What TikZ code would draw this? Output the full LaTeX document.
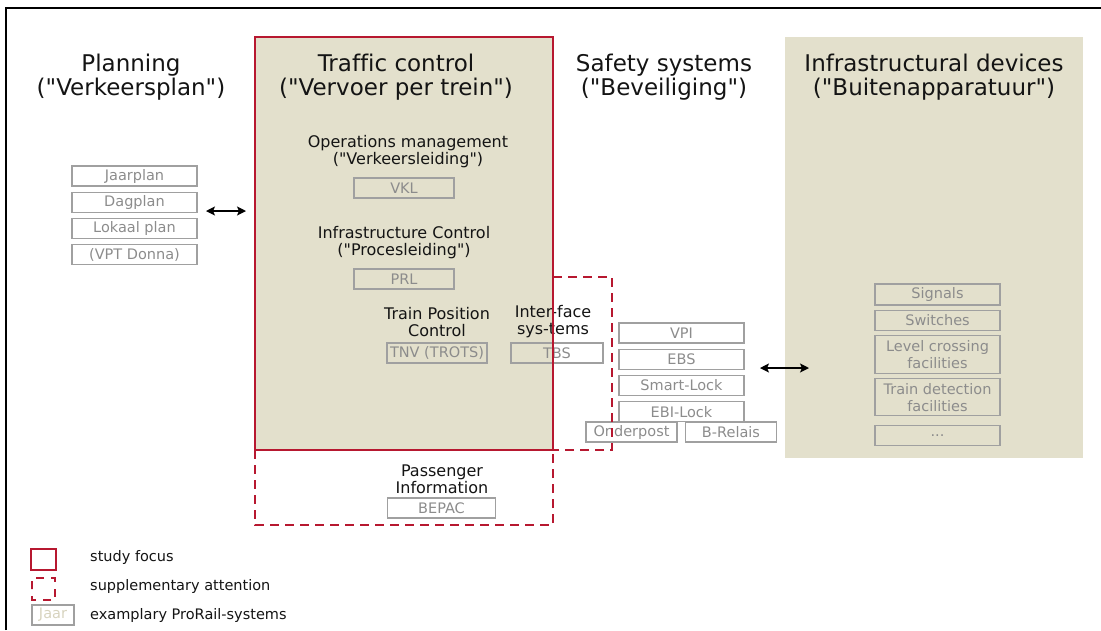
\documentclass[tikz,border=0pt]{standalone}
\usepackage{fontspec}
\setmainfont{DejaVu Sans}[Ligatures=NoCommon]
\usepackage{xcolor}
\usetikzlibrary{positioning,backgrounds,arrows.meta}
\definecolor{focusColor}{RGB}{183, 24, 48}
\definecolor{domainColor}{RGB}{227, 224, 204}
\definecolor{sysBorderColor}{RGB}{160, 160, 160}
\definecolor{sysTextColor}{RGB}{140, 140, 140}
\definecolor{legendSysColor}{RGB}{215, 211, 190}
\definecolor{labelColor}{RGB}{20, 20, 20}
\definecolor{arrowColor}{RGB}{0, 0, 0}
\newcommand{\qq}{\textquotedbl}

\begin{document}
\begin{tikzpicture}[
		x=1pt, y=-1pt,
		% Define styles for nodes
		domainhead/.style={
				align=center,
				text=labelColor,
				font=\fontsize{23}{24}\selectfont
			},
		subhead/.style={
				align=center,
				text=labelColor,
				font=\fontsize{16}{17}\selectfont
			},
		sysbox/.style={
				draw=sysBorderColor,
				rectangle,
				line width=1.2pt,
				minimum width=#1,
				minimum height=20pt,
				inner sep=0pt,
				align=center,
				text=sysTextColor,
				font=\fontsize{14.5}{17}\selectfont
			},
		sysbox/.default=125pt,
		focusline/.style={
				draw=focusColor,
				line width=2pt
			},
		extraline/.style={
				draw=focusColor,
				line width=2pt,
				dash pattern=on 9pt off 6pt
			},
		legendtext/.style={
				anchor=west,
				inner sep=0pt,
				text=labelColor,
				font=\fontsize{14.5}{17}\selectfont
			},
		arrow/.style={
				{Stealth[length=9pt,width=9pt,inset=2pt]}-{Stealth[length=9pt,width=9pt,inset=2pt]},
				line width=1.2pt,
				draw=arrowColor
			}
	]
	\useasboundingbox (0,0) rectangle (1101,630);

	% Frame
	\draw[line width=1.2pt] (6,630) -- (6,8) -- (1101,8);

	% Column headings
	\node[domainhead] (planninghead) at (131,77) {Planning\\(\qq Verkeersplan\qq)};
	\node[domainhead] (traffichead) at (396,77) {Traffic control\\(\qq Vervoer per trein\qq)};
	\node[domainhead] (safetyhead) at (664,77) {Safety systems\\(\qq Beveiliging\qq)};
	\node[domainhead] (infrahead) at (934,77) {Infrastructural devices\\(\qq Buitenapparatuur\qq)};

	% Planning systems
	\node[sysbox] (jaarplan) at (134.5,176) {Jaarplan};
	\node[sysbox, below=5pt of jaarplan] (dagplan) {Dagplan};
	\node[sysbox, below=5pt of dagplan] (lokaalplan) {Lokaal plan};
	\node[sysbox, below=5pt of lokaalplan] (vptdonna) {(VPT Donna)};

	% Traffic control
	\node[subhead] (opshead) at (408,152) {Operations management\\(\qq Verkeersleiding\qq)};
	\node[sysbox=100pt] (vkl) at (404,188) {VKL};
	\node[subhead] (infcontrolhead) at (404,243) {Infrastructure Control\\(\qq Procesleiding\qq)};
	\node[sysbox=100pt] (prl) at (404,279) {PRL};
	\node[subhead] (trainposhead) at (437,322) {Train Position\\Control};
	\node[sysbox=100pt] (tnv) at (437,353) {TNV (TROTS)};
	\node[subhead] (interfacehead) at (553,322) {Inter-face\\sys-tems};
	\node[sysbox=92pt] (tbs) at (557,353) {TBS};
	\node[subhead] (passengerhead) at (442,479) {Passenger\\Information};
	\node[sysbox=108pt] (bepac) at (441.5,508) {BEPAC};

	% Safety systems
	\node[sysbox] (vpi) at (681.5,333) {VPI};
	\node[sysbox, below=5pt of vpi] (ebs) {EBS};
	\node[sysbox, below=5pt of ebs] (smartlock) {Smart-Lock};
	\node[sysbox, below=5pt of smartlock] (ebilock) {EBI-Lock};
	\node[sysbox=91pt] (onderpost) at (631.5,432) {Onderpost};
	\node[sysbox=91pt] (brelais) at (731,432) {B-Relais};

	% Infrastructural devices
	\node[sysbox, minimum height=21pt] (signals) at (937.5,294.5) {Signals};
	\node[sysbox, below=4pt of signals] (switches) {Switches};
	\node[sysbox, minimum height=38pt, below=4pt of switches] (levelcrossing) {Level crossing\\facilities};
	\node[sysbox, minimum height=37pt, below=4pt of levelcrossing] (traindetection) {Train detection\\facilities};
	\node[sysbox, below=9pt of traindetection] (moredevices) {...};

	% ARROWS
	\coordinate (planport) at (206,211);
	\coordinate (trafficport) at (246,211);
	\coordinate (safetyport) at (760,368);
	\coordinate (infraport) at (809,368);
	\draw[arrow] (planport) -- (trafficport);
	\draw[arrow] (safetyport) -- (infraport);

	% Study focus and supplementary attention
	\draw[extraline] (553,277) -| (612,450) -- (553,450);
	\draw[extraline] (255,450) rectangle (553,525);
	\draw[focusline] (255,37) rectangle (553,450);

	% Legend
	\node[draw=focusColor, line width=2pt, minimum width=25pt, minimum height=21pt, inner sep=0pt] (legfocus) at (43.5,559.5) {};
	\node[legendtext] (legfocustext) at (90,557) {study focus};
	\draw[focusColor, line width=2pt, dash pattern=on 8pt off 7pt] (32,589) |- (55,578) |- (32,600) -- cycle;
	\node[legendtext] (legextratext) at (90,586) {supplementary attention};
	\node[sysbox=42pt, text=legendSysColor] (legsys) at (53,615) {Jaar};
	\node[legendtext] (legsystext) at (90,615) {examplary ProRail-systems};

	% BACKGROUND
	\begin{pgfonlayer}{background}
		\fill[domainColor] (255,37) rectangle (553,450);
		\fill[domainColor] (785,37) rectangle (1083,458);
	\end{pgfonlayer}

\end{tikzpicture}
\end{document}
